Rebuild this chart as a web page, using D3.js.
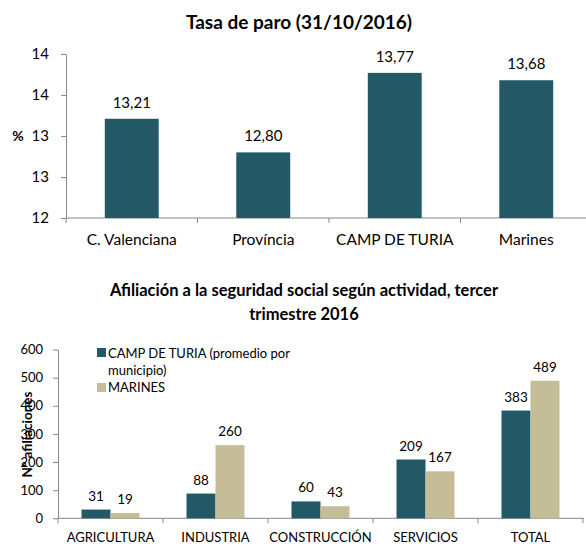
<!DOCTYPE html>
<html lang="es">
<head>
<meta charset="UTF-8">
<script src="https://d3js.org/d3.v7.min.js"></script>
<style>
  body { margin: 0; background: #fff; }
  svg { font-family: Lato, "Open Sans", sans-serif; display: block; }
  .axis path, .axis line { stroke: #888; }
  .axis text { fill: #000; }
</style>
</head>
<body>
<svg id="chart" width="586" height="544"></svg>
<script>
// --- top chart data
const paroCats = ["C. Valenciana", "Província", "CAMP DE TURIA", "Marines"];
const paroVals = [13.21, 12.80, 13.77, 13.68];
const paroTicks = [12, 12.5, 13, 13.5, 14];
const paroTickLabels = ["12", "13", "13", "14", "14"];

// --- bottom chart data
const afilCats = ["AGRICULTURA", "INDUSTRIA", "CONSTRUCCIÓN", "SERVICIOS", "TOTAL"];
const afilSeries = ["CAMP DE TURIA (promedio por municipio)", "MARINES"];
const campVals = [31, 88, 60, 209, 383];
const marinesVals = [19, 260, 43, 167, 489];
const afilTicks = [0, 100, 200, 300, 400, 500, 600];

const teal = "#235967", beige = "#c4bd97", axisGray = "#888";
const es = d3.formatLocale({decimal: ",", thousands: ".", grouping: [3], currency: ["", "€"]});
const fmt2 = es.format(".2f");

const svg = d3.select("#chart");

// ================= Tasa de paro =================
svg.append("text")
  .attr("x", 299).attr("y", 29)
  .attr("text-anchor", "middle")
  .attr("font-weight", "bold").attr("font-size", 19)
  .text("Tasa de paro (31/10/2016)");

const y1 = d3.scaleLinear().domain([12, 14]).range([218, 54]);
const x1 = d3.scaleBand().domain(paroCats).range([66, 592]).padding(0);

const g1 = svg.append("g");

g1.append("g").attr("class", "axis")
  .attr("transform", "translate(66,0)")
  .call(d3.axisLeft(y1).tickValues(paroTicks)
    .tickFormat((d, i) => paroTickLabels[i])
    .tickSize(5).tickSizeOuter(0).tickPadding(12))
  .call(a => a.selectAll("text").attr("font-size", 15).attr("font-family", "Lato"));

// x axis line + band-edge ticks
g1.append("line").attr("x1", 66).attr("x2", 586)
  .attr("y1", y1(12)).attr("y2", y1(12)).attr("stroke", axisGray);
g1.selectAll(".edge").data(paroCats.map(c => x1(c)).concat([x1.range()[1]]))
  .join("line")
  .attr("x1", d => d).attr("x2", d => d)
  .attr("y1", y1(12)).attr("y2", y1(12) + 5).attr("stroke", axisGray);

g1.selectAll(".catlab").data(paroCats).join("text")
  .attr("x", d => x1(d) + x1.bandwidth() / 2).attr("y", 245)
  .attr("text-anchor", "middle").attr("font-size", 15.5)
  .text(d => d);

const bw1 = x1.bandwidth() * 0.41;
g1.selectAll(".bar").data(paroVals).join("rect")
  .attr("x", (d, i) => x1(paroCats[i]) + (x1.bandwidth() - bw1) / 2)
  .attr("y", d => y1(d))
  .attr("width", bw1)
  .attr("height", d => y1(12) - y1(d))
  .attr("fill", teal);

g1.selectAll(".val").data(paroVals).join("text")
  .attr("x", (d, i) => x1(paroCats[i]) + x1.bandwidth() / 2)
  .attr("y", d => y1(d) - 11)
  .attr("text-anchor", "middle").attr("font-size", 15)
  .text(d => fmt2(d));

g1.append("text").attr("x", 18).attr("y", 141)
  .attr("text-anchor", "middle").attr("font-weight", "bold").attr("font-size", 14)
  .text("%");

// ================= Afiliación =================
const t2 = svg.append("text").attr("text-anchor", "middle")
  .attr("font-weight", "bold").attr("font-size", 16.5);
t2.append("tspan").attr("x", 304).attr("y", 296)
  .text("Afiliación a la seguridad social según actividad, tercer");
t2.append("tspan").attr("x", 304).attr("y", 320).text("trimestre 2016");

const y2 = d3.scaleLinear().domain([0, 600]).range([518.3, 349.5]);
const x2 = d3.scaleBand().domain(afilCats).range([58, 583]).padding(0);
const barW2 = 29;
const xs = d3.scaleBand().domain(afilSeries).range([0, barW2 * 2]);
const off2 = (x2.bandwidth() - barW2 * 2) / 2;

const g2 = svg.append("g");

g2.append("g").attr("class", "axis")
  .attr("transform", "translate(58,0)")
  .call(d3.axisLeft(y2).tickValues(afilTicks)
    .tickSize(5).tickSizeOuter(0).tickPadding(10))
  .call(a => a.selectAll("text").attr("font-size", 13).attr("font-family", "Lato"));

g2.append("line").attr("x1", 58).attr("x2", 584)
  .attr("y1", y2(0)).attr("y2", y2(0)).attr("stroke", axisGray);
g2.selectAll(".edge").data(afilCats.map(c => x2(c)).concat([x2.range()[1]]))
  .join("line")
  .attr("x1", d => d).attr("x2", d => d)
  .attr("y1", y2(0)).attr("y2", y2(0) + 5).attr("stroke", axisGray);

g2.selectAll(".catlab").data(afilCats).join("text")
  .attr("x", d => x2(d) + x2.bandwidth() / 2).attr("y", 542)
  .attr("text-anchor", "middle").attr("font-size", 13)
  .text(d => d);

const seriesData = [
  {name: afilSeries[0], vals: campVals, color: teal},
  {name: afilSeries[1], vals: marinesVals, color: beige}
];

seriesData.forEach(s => {
  const rows = s.vals.map((v, i) => ({cat: afilCats[i], v}));
  g2.append("g").selectAll("rect").data(rows).join("rect")
    .attr("x", d => x2(d.cat) + off2 + xs(s.name))
    .attr("y", d => y2(d.v))
    .attr("width", xs.bandwidth())
    .attr("height", d => y2(0) - y2(d.v))
    .attr("fill", s.color);
  g2.append("g").selectAll("text").data(rows).join("text")
    .attr("x", d => x2(d.cat) + off2 + xs(s.name) + xs.bandwidth() / 2)
    .attr("y", d => y2(d.v) - 9)
    .attr("text-anchor", "middle").attr("font-size", 13.5)
    .text(d => d.v);
});

// y axis title
g2.append("text")
  .attr("transform", "translate(32,434.5) rotate(-90)")
  .attr("text-anchor", "middle").attr("font-weight", "bold").attr("font-size", 13.5)
  .text("Nº afiliaciones");

// legend
const leg = g2.append("g");
leg.append("rect").attr("x", 97).attr("y", 348).attr("width", 9).attr("height", 9).attr("fill", teal);
const lt = leg.append("text").attr("font-size", 13);
lt.append("tspan").attr("x", 108).attr("y", 358).text("CAMP DE TURIA (promedio por");
lt.append("tspan").attr("x", 108).attr("y", 375).text("municipio)");
leg.append("rect").attr("x", 97).attr("y", 383).attr("width", 9).attr("height", 9).attr("fill", beige);
leg.append("text").attr("x", 108).attr("y", 392).attr("font-size", 13).text(afilSeries[1]);
</script>
</body>
</html>
